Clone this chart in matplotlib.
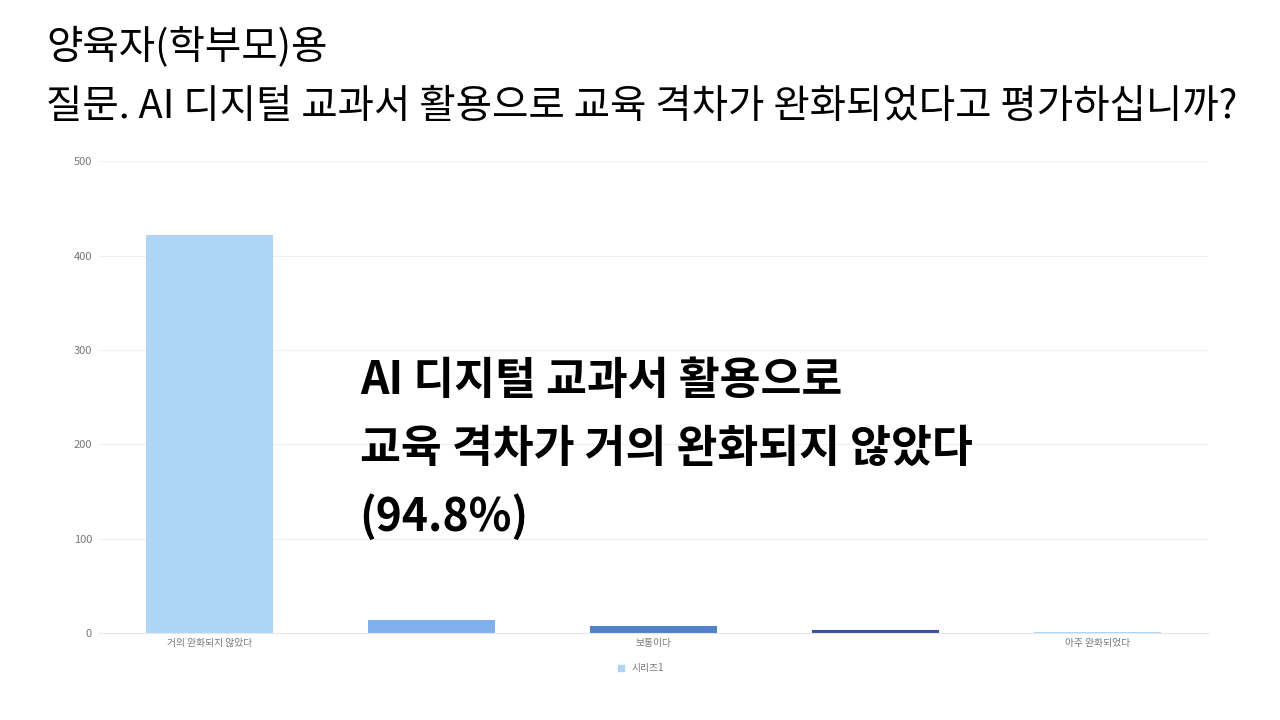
import numpy as np
import matplotlib
matplotlib.use("Agg")
import matplotlib.pyplot as plt

plt.rcParams['font.family'] = ['Noto Sans CJK KR', 'DejaVu Sans']

# ── data ──────────────────────────────────────────────────────────────────────
categories = ["거의 완화되지 않았다", "", "보통이다", "", "아주 완화되었다"]
values = [422, 14, 7, 3, 1]
bar_colors = ["#AED4F6", "#7FB0EE", "#5180CC", "#3B4FA0", "#AED4F6"]
y_ticks = [0, 100, 200, 300, 400, 500]
series_name = "시리즈1"

title_1 = "양육자(학부모)용"
title_2 = "질문. AI 디지털 교과서 활용으로 교육 격차가 완화되었다고 평가하십니까?"
callout = ["AI 디지털 교과서 활용으로", "교육 격차가 거의 완화되지 않았다", "(94.8%)"]

# ── figure ────────────────────────────────────────────────────────────────────
fig = plt.figure(figsize=(12.8, 7.2), dpi=100)
ax = fig.add_axes([0.0773, 0.121, 0.8665, 0.655])

x = np.arange(len(values))
ax.bar(x, values, width=0.573, color=bar_colors, zorder=2)

ax.set_xlim(-0.5, len(values) - 0.5)
ax.set_ylim(0, 500)
ax.set_yticks(y_ticks)
ax.set_xticks(x)
ax.set_xticklabels(categories)
ax.tick_params(axis="both", length=0, colors="#777777", labelsize=7)
ax.tick_params(axis="y", pad=5, labelsize=8)
ax.tick_params(axis="x", pad=4)
ax.grid(axis="y", color="#F0F0F0", linewidth=0.8, zorder=0)
for side in ("top", "right", "left"):
    ax.spines[side].set_visible(False)
ax.spines["bottom"].set_color("#E8E8E8")

# legend
ax.scatter([], [], marker="s", s=18, color="#AED4F6", label=series_name)
ax.legend(loc="upper center", bbox_to_anchor=(0.486, -0.045), frameon=False,
          fontsize=7, handletextpad=0.1, labelcolor="#777777")

# titles
fig.text(0.036, 0.935, title_1, fontsize=28.5, fontweight="medium", va="center")
fig.text(0.036, 0.851, title_2, fontsize=28.5, fontweight="medium", va="center")

# callout
for i, line in enumerate(callout):
    fig.text(0.281, 0.471 - i * 0.095, line, fontsize=32,
             fontweight="bold", va="center")

fig.savefig("out.png", dpi=100)
